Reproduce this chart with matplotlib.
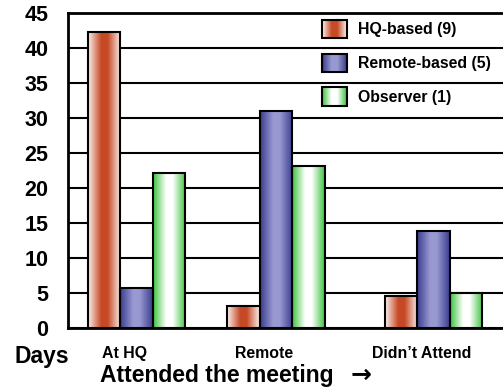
import numpy as np
import matplotlib.pyplot as plt
from matplotlib.patches import Rectangle
from matplotlib.legend_handler import HandlerBase
from matplotlib.transforms import ScaledTranslation

plt.rcParams['font.family'] = ['Liberation Sans', 'DejaVu Sans']
plt.rcParams['font.weight'] = 'bold'

# Days spent, per attendance mode
categories = ['At HQ', 'Remote', 'Didn\u2019t Attend']
hq_based = [42.3, 3.1, 4.6]
remote_based = [5.7, 31.0, 13.9]
observer = [22.1, 23.2, 5.0]
series_labels = ['HQ-based (9)', 'Remote-based (5)', 'Observer (1)']

# group centres (uneven spacing) and bar width
group_pos = np.array([0.0, 1.0, 2.13])
bar_w = 0.232

# (edge colour, centre colour) for the horizontal gradients
gradients = [
    ((0.98, 0.94, 0.93), (0.78, 0.29, 0.15)),
    ((0.23, 0.24, 0.56), (0.60, 0.60, 0.82)),
    ((0.24, 0.77, 0.24), (1.00, 1.00, 1.00)),
]


def gradient_colors(edge, centre, n=64):
    x = np.linspace(0, 1, n)
    f = np.clip((1 - np.abs(2 * x - 1)) * 1.25, 0, 1)
    edge = np.array(edge)
    centre = np.array(centre)
    return edge + (centre - edge) * f[:, None]


class GradientHandler(HandlerBase):
    def __init__(self, edge, centre):
        super().__init__()
        self.cols = gradient_colors(edge, centre, 24)

    def create_artists(self, legend, orig_handle, xdescent, ydescent,
                       width, height, fontsize, trans):
        arts = []
        n = len(self.cols)
        for i, c in enumerate(self.cols):
            r = Rectangle((-xdescent + i * width / n, -ydescent), width / n * 1.05, height,
                          facecolor=c, edgecolor='none', antialiased=False, transform=trans)
            arts.append(r)
        arts.append(Rectangle((-xdescent, -ydescent), width, height, facecolor='none',
                              edgecolor='black', linewidth=1.5, transform=trans))
        return arts


fig = plt.figure(figsize=(5.03, 3.89), dpi=100)
ax = fig.add_axes([68 / 503, 1 - 328 / 389, 442 / 503, 315 / 389])

handles = []
for k, vals in enumerate([hq_based, remote_based, observer]):
    xs = group_pos + (k - 1) * bar_w
    bars = ax.bar(xs, vals, width=bar_w, facecolor='none', edgecolor='black',
                  linewidth=1.5, zorder=3)
    grad = gradient_colors(*gradients[k])[None, :, :]
    for b in bars:
        x0, y0 = b.get_x(), b.get_y()
        ax.imshow(grad, extent=[x0, x0 + b.get_width(), y0, y0 + b.get_height()],
                  aspect='auto', interpolation='bilinear', zorder=2.5)
    handles.append(bars[0])

ax.set_xlim(-0.491, 2.677)
ax.set_ylim(0, 45)
ax.set_yticks(np.arange(0, 46, 5))
ax.yaxis.grid(True, color='black', linewidth=1.5)
ax.set_axisbelow(True)
for s in ['left', 'top', 'bottom']:
    ax.spines[s].set_linewidth(2)
ax.spines['right'].set_visible(False)
ax.tick_params(axis='y', length=0, pad=14, labelsize=15.5)
ax.tick_params(axis='x', length=0, pad=13, labelsize=11.4)
ax.set_xticks(group_pos)
ax.set_xticklabels(categories)
for lab in ax.get_xticklabels():
    lab.set_transform(lab.get_transform() + ScaledTranslation(-12 / 100, 0, fig.dpi_scale_trans))

leg = ax.legend(handles, series_labels, loc='upper left',
                bbox_to_anchor=(322 / 503, 1 - 20 / 389), bbox_transform=fig.transFigure,
                frameon=False, borderpad=0, borderaxespad=0, fontsize=11.4,
                handlelength=1.58, handleheight=1.39, labelspacing=0.98, handletextpad=0.7,
                handler_map={handles[i]: GradientHandler(*gradients[i]) for i in range(3)})

fig.text(42 / 503, 1 - 357 / 389, 'Days', ha='center', va='center', fontsize=16.5)
fig.text(100 / 503, 1 - 382 / 389, 'Attended the meeting', ha='left', va='baseline',
         fontsize=16.5)
fig.text(351 / 503, 1 - 382 / 389, '\u2192', ha='left', va='baseline', fontsize=18,
         family=['DejaVu Sans'], fontweight='heavy')

fig.savefig('out.png', dpi=100)
